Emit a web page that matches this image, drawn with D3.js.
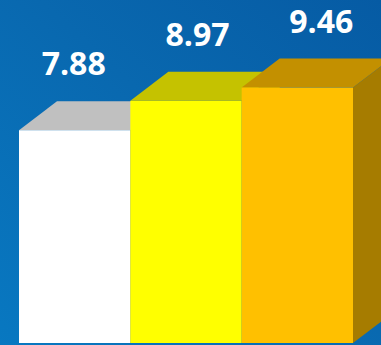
<!DOCTYPE html>
<html>
<head>
<meta charset="utf-8">
<script src="https://cdn.jsdelivr.net/npm/d3@7"></script>
<style>
  html, body { margin: 0; padding: 0; overflow: hidden; background: #0a6ab2; }
  svg { display: block; }
</style>
</head>
<body>
<script>
// Chart data
const categories = ["A", "B", "C"];
const values = [7.88, 8.97, 9.46];
const labels = ["7.88", "8.97", "9.46"];

// Face colours per bar: front, top, side
const frontColors = ["#ffffff", "#ffff00", "#ffc000"];
const topColors = ["#c0c0c0", "#c5c200", "#c39000"];
const sideColors = ["#a0a0a0", "#a6a300", "#a67c00"];

const W = 381, H = 345;
const depthX = 38, depthY = 29;

const svg = d3.select("body").append("svg")
  .attr("width", W).attr("height", H);

// Background gradient
const defs = svg.append("defs");
const grad = defs.append("linearGradient")
  .attr("id", "bg").attr("x1", "0%").attr("y1", "100%").attr("x2", "100%").attr("y2", "0%");
grad.append("stop").attr("offset", "0%").attr("stop-color", "#0878c1");
grad.append("stop").attr("offset", "55%").attr("stop-color", "#0968af");
grad.append("stop").attr("offset", "100%").attr("stop-color", "#065ba4");
svg.append("rect").attr("width", W).attr("height", H).attr("fill", "url(#bg)");

const x = d3.scaleBand().domain(categories).range([19, 353]).padding(0);
const y = d3.scaleLinear().domain([0, 10]).range([343, 73]);

const g = svg.append("g");

categories.forEach((c, i) => {
  const x0 = x(c), x1 = x0 + x.bandwidth();
  const yt = y(values[i]), yb = y(0);
  const bar = g.append("g");
  // side face
  bar.append("polygon")
    .attr("points", [[x1, yt], [x1 + depthX, yt - depthY], [x1 + depthX, yb - depthY], [x1, yb]].join(" "))
    .attr("fill", sideColors[i]);
  // top face
  bar.append("polygon")
    .attr("points", [[x0, yt], [x0 + depthX, yt - depthY], [x1 + depthX, yt - depthY], [x1, yt]].join(" "))
    .attr("fill", topColors[i]);
  // front face
  bar.append("rect")
    .attr("x", x0).attr("y", yt)
    .attr("width", x.bandwidth()).attr("height", yb - yt)
    .attr("fill", frontColors[i]);
});

// Value labels above each bar
svg.append("g").selectAll("text")
  .data(categories)
  .join("text")
  .attr("x", (c, i) => x(c) + x.bandwidth() / 2 - 1 + i * 12.5)
  .attr("y", (c, i) => y(values[i]) - 55)
  .attr("text-anchor", "middle")
  .attr("fill", "#ffffff")
  .attr("font-family", "'Open Sans', sans-serif")
  .attr("font-weight", "bold")
  .attr("font-size", 32)
  .text((c, i) => labels[i]);
</script>
</body>
</html>
